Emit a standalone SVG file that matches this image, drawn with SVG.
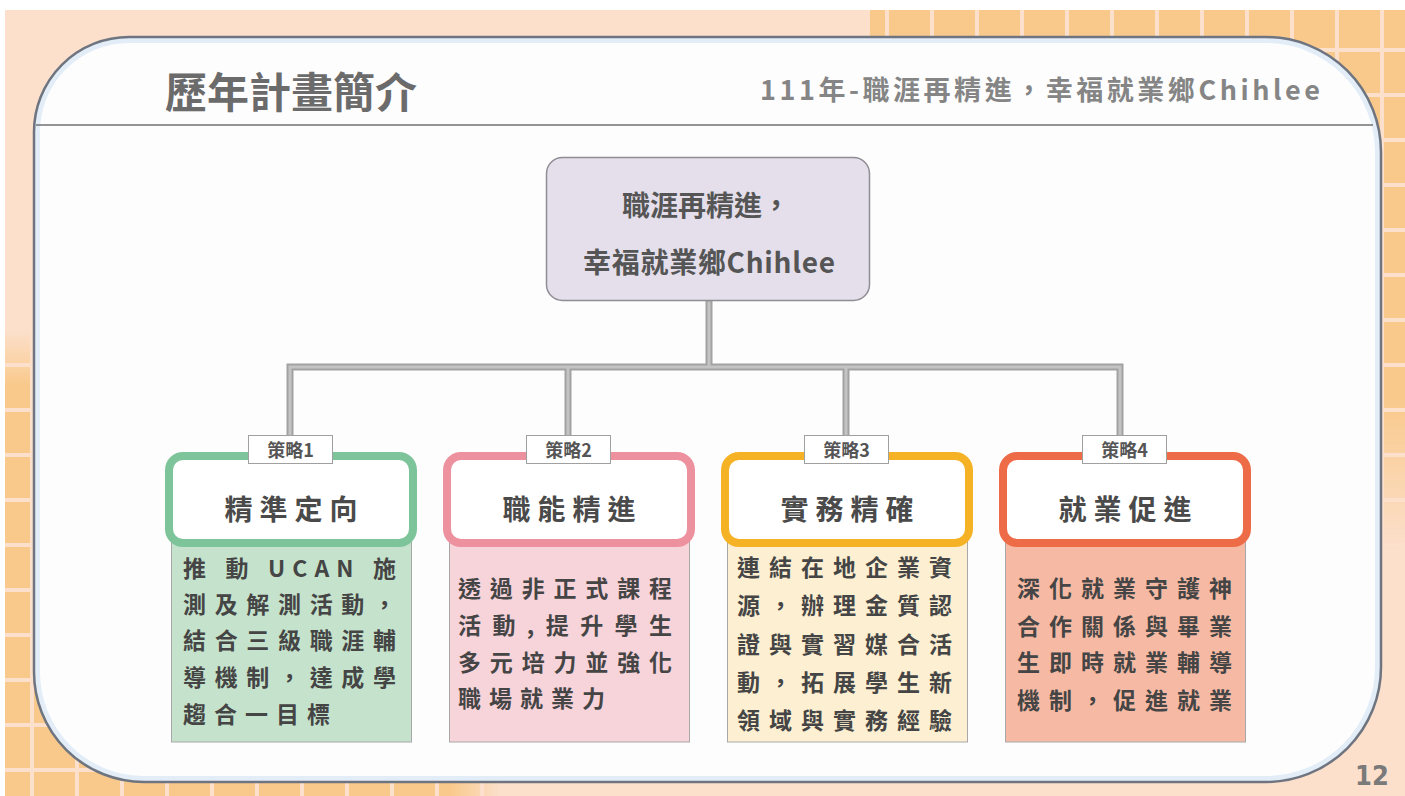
<svg xmlns="http://www.w3.org/2000/svg" width="1405" height="796" viewBox="0 0 1405 796" lang="zh-TW" xml:lang="zh-TW">
<style>
.cjk{font-family:"Noto Sans CJK TC","Noto Sans CJK SC",sans-serif;font-weight:700}
.title{font-size:42px;fill:#6b6b6b}
.sub{font-size:27px;fill:#858585}
.ctr{font-size:28px;fill:#555}
.tab{font-size:18px;fill:#555}
.hd{font-size:28px;fill:#4a4a4a;letter-spacing:7px}
.bt{font-size:23px;fill:#454545}
.tabbox{fill:#fff;stroke:#a0a0a0;stroke-width:1}
.body{stroke:#a8a8a8;stroke-width:1}
.head{fill:#fff;stroke-width:8}
.conn-o{fill:none;stroke:#a2a2a2;stroke-width:7;stroke-linecap:square}
.conn-i{fill:none;stroke:#c3c3c3;stroke-width:3;stroke-linecap:square}
</style>
<defs>
<pattern id="grid" patternUnits="userSpaceOnUse" x="30" y="3" width="45" height="45">
<rect width="45" height="45" fill="#f9c98b"/>
<rect width="4" height="45" fill="#fce0cb"/>
<rect width="45" height="4" fill="#fce0cb"/>
</pattern>
<linearGradient id="fadeV" x1="0" y1="0" x2="0" y2="1">
<stop offset="0" stop-color="#fff"/>
<stop offset="0.72" stop-color="#fff"/>
<stop offset="1" stop-color="#000"/>
</linearGradient>
<linearGradient id="fadeUp" x1="0" y1="0" x2="0" y2="1">
<stop offset="0" stop-color="#000"/>
<stop offset="0.12" stop-color="#fff"/>
<stop offset="1" stop-color="#fff"/>
</linearGradient>
<linearGradient id="fadeR" x1="0" y1="0" x2="1" y2="0">
<stop offset="0" stop-color="#fff"/>
<stop offset="0.9" stop-color="#fff"/>
<stop offset="1" stop-color="#000"/>
</linearGradient>
<mask id="mTR" maskUnits="userSpaceOnUse" x="0" y="0" width="1405" height="796"><rect x="870" y="10" width="535" height="540" fill="url(#fadeV)"/></mask>
<mask id="mL" maskUnits="userSpaceOnUse" x="0" y="0" width="1405" height="796"><rect x="5" y="330" width="130" height="466" fill="url(#fadeUp)"/></mask>
<mask id="mB" maskUnits="userSpaceOnUse" x="0" y="0" width="1405" height="796"><rect x="5" y="700" width="495" height="96" fill="url(#fadeR)"/></mask>
<path id="card" d="M129 37 H1266 A115 115 0 0 1 1381 152 V667 A115 115 0 0 1 1266 782 H144 A110 110 0 0 1 34 672 V132 A95 95 0 0 1 129 37 Z"/>
<clipPath id="cardClip"><use href="#card"/></clipPath>
</defs>

<g id="background">
<rect width="1405" height="796" fill="#ffffff"/>
<rect x="5" y="10" width="1400" height="786" fill="#fce0cc"/>
<rect x="870" y="10" width="535" height="540" fill="url(#grid)" mask="url(#mTR)"/>
<rect x="5" y="330" width="130" height="466" fill="url(#grid)" mask="url(#mL)"/>
<rect x="5" y="700" width="495" height="96" fill="url(#grid)" mask="url(#mB)"/>
</g>

<g id="card-panel">
<use href="#card" fill="#fdfdfe"/>
<use href="#card" fill="none" stroke="#e2edf7" stroke-width="12" clip-path="url(#cardClip)"/>
<use href="#card" fill="none" stroke="#6f7580" stroke-width="2.5"/>
<line x1="36" y1="125" x2="1373" y2="125" stroke="#707070" stroke-width="1.5"/>
<text class="cjk title" x="165" y="108">歷年計畫簡介</text>
<text class="cjk sub" x="760" y="100" textLength="560" lengthAdjust="spacing">111年-職涯再精進，幸福就業鄉Chihlee</text>
<text x="1372" y="785" text-anchor="middle" font-family="DejaVu Sans Condensed, DejaVu Sans, sans-serif" font-weight="700" font-size="27" fill="#7a7a7a">12</text>
</g>

<g id="connectors">
<path class="conn-o" d="M709 303 V367 M290 367 H1120 M290 367 V434 M568 367 V434 M846 367 V434 M1120 367 V434"/>
<path class="conn-i" d="M709 303 V367 M290 367 H1120 M290 367 V434 M568 367 V434 M846 367 V434 M1120 367 V434"/>
</g>

<g id="root-node">
<rect x="546.5" y="157.5" width="323" height="143" rx="16" fill="#e4dfeb" stroke="#8e8e94" stroke-width="1.5"/>
<text class="cjk ctr" x="622" y="216">職涯再精進，</text>
<text class="cjk ctr" x="583" y="273" textLength="252" lengthAdjust="spacing">幸福就業鄉Chihlee</text>
</g>

<g id="strategy1">
<rect class="body" x="171.5" y="540" width="240" height="202" fill="#c5e3cc"/>
<rect class="head" x="169" y="456" width="244" height="87" rx="14" stroke="#7dc49a"/>
<rect class="tabbox" x="248.5" y="435.5" width="84" height="28"/>
<text class="cjk tab" x="290.5" y="457" text-anchor="middle">策略1</text>
<text class="cjk hd" x="294.5" y="520" text-anchor="middle">精準定向</text>
<text class="cjk bt" x="183" y="577" textLength="213" lengthAdjust="spacing">推 動 UCAN 施</text>
<text class="cjk bt" x="183" y="613" textLength="213" lengthAdjust="spacing">測及解測活動，</text>
<text class="cjk bt" x="183" y="649" textLength="213" lengthAdjust="spacing">結合三級職涯輔</text>
<text class="cjk bt" x="183" y="686" textLength="213" lengthAdjust="spacing">導機制，達成學</text>
<text class="cjk bt" x="183" y="723" letter-spacing="8">趨合一目標</text>
</g>

<g id="strategy2">
<rect class="body" x="449.5" y="540" width="240" height="202" fill="#f7d3da"/>
<rect class="head" x="447" y="456" width="244" height="87" rx="14" stroke="#ee919f"/>
<rect class="tabbox" x="526.5" y="435.5" width="84" height="28"/>
<text class="cjk tab" x="568.5" y="457" text-anchor="middle">策略2</text>
<text class="cjk hd" x="572.5" y="520" text-anchor="middle">職能精進</text>
<text class="cjk bt" x="458" y="597" textLength="214" lengthAdjust="spacing">透過非正式課程</text>
<text class="cjk bt" x="458" y="634" textLength="214" lengthAdjust="spacing">活動,提升學生</text>
<text class="cjk bt" x="458" y="671" textLength="214" lengthAdjust="spacing">多元培力並強化</text>
<text class="cjk bt" x="458" y="707" letter-spacing="8">職場就業力</text>
</g>

<g id="strategy3">
<rect class="body" x="727.5" y="540" width="240" height="202" fill="#fcefd2"/>
<rect class="head" x="725" y="456" width="244" height="87" rx="14" stroke="#f5b225"/>
<rect class="tabbox" x="804.5" y="435.5" width="84" height="28"/>
<text class="cjk tab" x="846.5" y="457" text-anchor="middle">策略3</text>
<text class="cjk hd" x="850.5" y="520" text-anchor="middle">實務精確</text>
<text class="cjk bt" x="737" y="576" textLength="215" lengthAdjust="spacing">連結在地企業資</text>
<text class="cjk bt" x="737" y="614" textLength="215" lengthAdjust="spacing">源，辦理金質認</text>
<text class="cjk bt" x="737" y="653" textLength="215" lengthAdjust="spacing">證與實習媒合活</text>
<text class="cjk bt" x="737" y="691" textLength="215" lengthAdjust="spacing">動，拓展學生新</text>
<text class="cjk bt" x="737" y="729" textLength="215" lengthAdjust="spacing">領域與實務經驗</text>
</g>

<g id="strategy4">
<rect class="body" x="1005.5" y="540" width="240" height="202" fill="#f6baa4"/>
<rect class="head" x="1003" y="456" width="244" height="87" rx="14" stroke="#ee6b48"/>
<rect class="tabbox" x="1082.5" y="435.5" width="84" height="28"/>
<text class="cjk tab" x="1124.5" y="457" text-anchor="middle">策略4</text>
<text class="cjk hd" x="1128.5" y="520" text-anchor="middle">就業促進</text>
<text class="cjk bt" x="1017" y="597" textLength="215" lengthAdjust="spacing">深化就業守護神</text>
<text class="cjk bt" x="1017" y="635" textLength="215" lengthAdjust="spacing">合作關係與畢業</text>
<text class="cjk bt" x="1017" y="671" textLength="215" lengthAdjust="spacing">生即時就業輔導</text>
<text class="cjk bt" x="1017" y="709" textLength="215" lengthAdjust="spacing">機制，促進就業</text>
</g>
</svg>
